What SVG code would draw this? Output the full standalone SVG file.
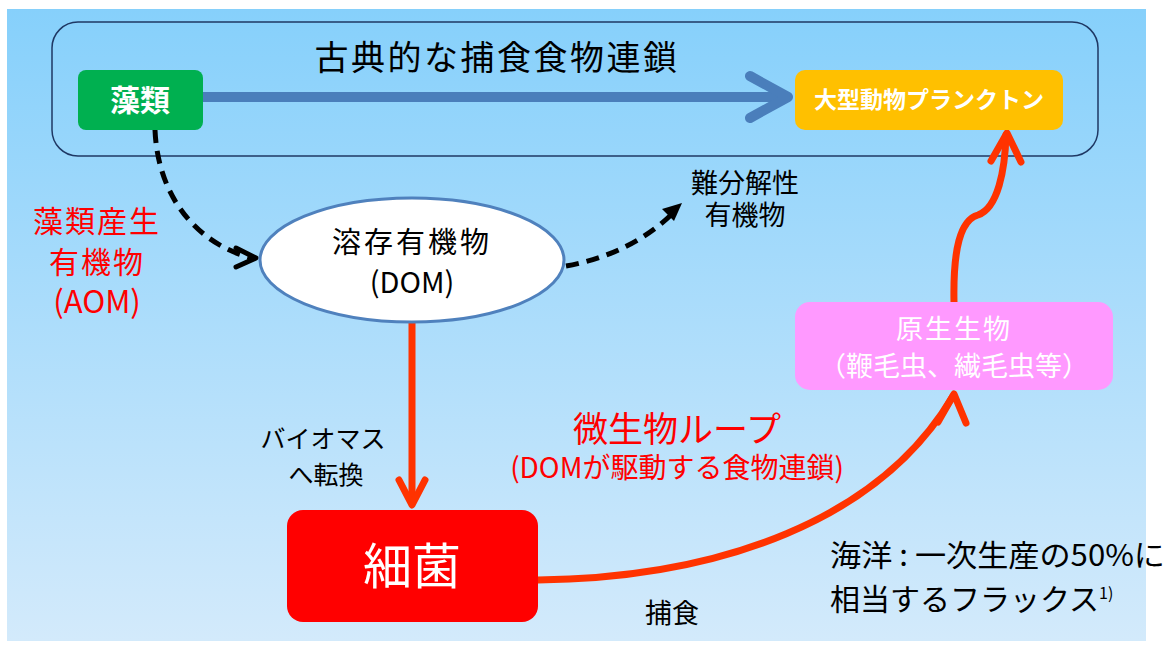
<svg xmlns="http://www.w3.org/2000/svg" width="1173" height="645" viewBox="0 0 1173 645">
<defs>
<linearGradient id="bg" x1="0" y1="0" x2="0" y2="1">
<stop offset="0" stop-color="#86D0FB"/>
<stop offset="1" stop-color="#D3EAFB"/>
</linearGradient>
<style>
text{font-family:"Noto Sans CJK JP","Noto Sans",sans-serif;}
.blk{fill:#000;}
.red{fill:#FF0000;}
.wht{fill:#FFFFFF;}
.dash{fill:none;stroke:#000;stroke-width:5;stroke-dasharray:13,8;}
.dhead{fill:none;stroke:#000;stroke-width:5;stroke-linecap:round;stroke-linejoin:round;}
.rl{fill:none;stroke:#FF3300;stroke-width:7;stroke-linecap:round;stroke-linejoin:round;}
</style>
</defs>
<rect x="0" y="0" width="1173" height="645" fill="#FFFFFF"/>
<rect x="7" y="9" width="1139" height="632" fill="url(#bg)"/>
<rect x="52" y="22" width="1046" height="134" rx="26" fill="none" stroke="#1F3864" stroke-width="1.5"/>
<text class="blk" x="497" y="70" font-size="34" text-anchor="middle" letter-spacing="2.5">古典的な捕食食物連鎖</text>

<g id="connectors">
<line x1="203" y1="97" x2="785" y2="97" stroke="#4A7EBB" stroke-width="10"/>
<polyline points="750,76 788,97 750,118" fill="none" stroke="#4A7EBB" stroke-width="10" stroke-linecap="round" stroke-linejoin="round"/>
<path class="dash" d="M155,130 C158,200 200,245 252,258"/>
<polyline class="dhead" points="236,248 256,258 236,267"/>
<path class="dash" d="M566,266 C610,258 645,240 672,214"/>
<polygon points="682,203 662,209 674,221" fill="#000"/>
<line class="rl" x1="412" y1="323" x2="412" y2="503"/>
<polyline class="rl" points="399,480 412,505 425,480"/>
<path class="rl" d="M538,580 C720,578 880,520 953,396"/>
<polyline class="rl" points="938,422 954,394 966,423"/>
<path class="rl" d="M954,302 C953,250 960,220 978,215 C998,208 1005,170 1006,135"/>
<polyline class="rl" points="991,161 1007,133 1021,162"/>
</g>

<g id="algae">
<rect x="78" y="70" width="125" height="60" rx="8" fill="#00B050"/>
<text class="wht" x="140" y="111" font-size="30" font-weight="bold" text-anchor="middle">藻類</text>
</g>
<g id="zooplankton">
<rect x="795" y="70" width="268" height="60" rx="10" fill="#FFC000"/>
<text class="wht" x="929" y="108" font-size="23" font-weight="bold" text-anchor="middle">大型動物プランクトン</text>
</g>
<g id="dom">
<ellipse cx="412" cy="260" rx="152" ry="62" fill="#FFFFFF" stroke="#4F81BD" stroke-width="3"/>
<text class="blk" font-size="29" text-anchor="middle"><tspan x="412" y="253" letter-spacing="3">溶存有機物</tspan><tspan x="412" y="293">(DOM)</tspan></text>
</g>
<g id="refractory">
<text class="blk" font-size="27" text-anchor="middle"><tspan x="745" y="193">難分解性</tspan><tspan x="745" y="225">有機物</tspan></text>
</g>
<g id="aom">
<text class="red" font-size="30" text-anchor="middle"><tspan x="97" y="232" letter-spacing="2">藻類産生</tspan><tspan x="97" y="273" letter-spacing="2">有機物</tspan><tspan x="97" y="313" font-size="31">(AOM)</tspan></text>
</g>
<g id="biomass">
<text class="blk" font-size="25" text-anchor="middle"><tspan x="323" y="448">バイオマス</tspan><tspan x="326" y="484">へ転換</tspan></text>
</g>
<g id="bacteria">
<rect x="287" y="510" width="251" height="112" rx="16" fill="#FF0000"/>
<text class="wht" x="412" y="584" font-size="49" text-anchor="middle">細菌</text>
</g>
<g id="protists">
<rect x="795" y="302" width="318" height="88" rx="15" fill="#FF99FF"/>
<text class="wht" text-anchor="middle"><tspan x="954" y="339" font-size="27" letter-spacing="2">原生生物</tspan><tspan x="954" y="376" font-size="27">（鞭毛虫、繊毛虫等）</tspan></text>
</g>
<g id="loop-label">
<text class="red" text-anchor="middle"><tspan x="677" y="442" font-size="35">微生物ループ</tspan><tspan x="677" y="478" font-size="28">(DOMが駆動する食物連鎖)</tspan></text>
</g>
<g id="notes">
<text class="blk" x="672" y="623" font-size="27" text-anchor="middle">捕食</text>
<text class="blk" font-size="30"><tspan x="830" y="566" textLength="335" lengthAdjust="spacingAndGlyphs">海洋 : 一次生産の50%に</tspan><tspan x="830" y="610">相当するフラックス</tspan><tspan font-size="16" dy="-11">1)</tspan></text>
</g>
</svg>
